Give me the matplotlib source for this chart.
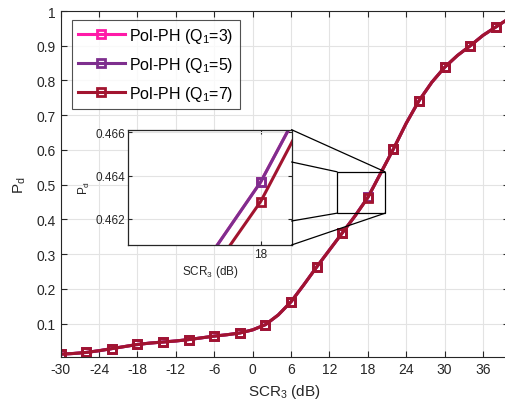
import matplotlib
matplotlib.use("Agg")
import matplotlib.pyplot as plt
from matplotlib.patches import Rectangle, ConnectionPatch

plt.rcParams['font.family'] = ['Liberation Sans', 'DejaVu Sans']
plt.rcParams['mathtext.fontset'] = 'custom'
plt.rcParams['mathtext.rm'] = 'Liberation Sans'
plt.rcParams['mathtext.it'] = 'Liberation Sans'

# ---- data ----
scr = [-30, -28, -26, -24, -22, -20, -18, -16, -14, -12, -10, -8, -6, -4, -2, 0,
       2, 4, 6, 8, 10, 12, 14, 16, 18, 20, 22, 24, 26, 28, 30, 32, 34, 36, 38, 40]
pd_q7 = [0.012, 0.014, 0.017, 0.022, 0.028, 0.034, 0.040, 0.044, 0.047, 0.050, 0.054, 0.059,
         0.064, 0.068, 0.073, 0.082, 0.097, 0.125, 0.163, 0.212, 0.263, 0.312, 0.361, 0.410,
         0.4628, 0.533, 0.603, 0.677, 0.742, 0.795, 0.838, 0.872, 0.900, 0.930, 0.954, 0.978]
pd_q5 = [0.012, 0.014, 0.017, 0.022, 0.028, 0.034, 0.040, 0.044, 0.047, 0.050, 0.054, 0.059,
         0.064, 0.068, 0.073, 0.082, 0.097, 0.125, 0.163, 0.212, 0.263, 0.312, 0.361, 0.410,
         0.4637, 0.533, 0.603, 0.677, 0.742, 0.795, 0.838, 0.872, 0.900, 0.930, 0.954, 0.978]
pd_q3 = list(pd_q5)

labels = ['Pol-PH (Q$_1$=3)', 'Pol-PH (Q$_1$=5)', 'Pol-PH (Q$_1$=7)']
colors = ['#FF1AA8', '#7E2F8E', '#A2142F']
series = [pd_q3, pd_q5, pd_q7]

xticks = [-30, -24, -18, -12, -6, 0, 6, 12, 18, 24, 30, 36]
yticks = [0.1, 0.2, 0.3, 0.4, 0.5, 0.6, 0.7, 0.8, 0.9, 1.0]
ins_yticks = [0.462, 0.464, 0.466]
ins_xticks = [18]

axcol = '#262626'
gridcol = '#E3E3E3'

fig = plt.figure(figsize=(5.05, 4.06), dpi=100)
ax = fig.add_axes([0.1202, 0.1175, 0.887, 0.8529])

for y, c, lab in zip(series, colors, labels):
    ax.plot(scr, y, '-', color=c, lw=2.2, marker='s', ms=5.5, mfc='none', mew=2.0,
            markevery=2, label=lab)

ax.set_xlim(-30, 40)
ax.set_ylim(0.003, 1)
ax.set_xticks(xticks)
ax.set_xticklabels([str(t) for t in xticks])
ax.set_yticks(yticks)
ax.set_yticklabels(['%g' % t for t in yticks])
ax.grid(True, color=gridcol, lw=0.8)
ax.set_axisbelow(True)
ax.tick_params(direction='in', top=True, right=True, labelsize=10, colors=axcol,
               length=4, width=0.8)
for s in ax.spines.values():
    s.set_color(axcol)
    s.set_linewidth(0.8)
ax.set_xlabel('SCR$_3$ (dB)', fontsize=11, color=axcol, labelpad=4)
ax.set_ylabel('P$_d$', fontsize=11, color=axcol, labelpad=6)

leg = ax.legend(loc='upper left', bbox_to_anchor=(0.025, 0.975), fontsize=11.5,
                frameon=True, fancybox=False, edgecolor=axcol, handlelength=2.9,
                borderpad=0.4, labelspacing=0.62, handletextpad=0.3, borderaxespad=0)
leg.get_frame().set_linewidth(0.8)

# zoom rectangle on main axes
rx0, rx1, ry0, ry1 = 13.2, 20.7, 0.418, 0.537
ax.add_patch(Rectangle((rx0, ry0), rx1 - rx0, ry1 - ry0, fill=False, ec='black', lw=0.9, zorder=5))

# inset axes
ins = fig.add_axes([0.2541, 0.3941, 0.3232, 0.284])
for y, c in zip(series, colors):
    ins.plot(scr, y, '-', color=c, lw=2.2, marker='s', ms=5.5, mfc='none', mew=2.0)
ins.set_xlim(17.67, 18.077)
ins.set_ylim(0.4608, 0.46611)
ins.set_xticks(ins_xticks)
ins.set_xticklabels([str(t) for t in ins_xticks])
ins.set_yticks(ins_yticks)
ins.set_yticklabels(['%.3f' % t for t in ins_yticks])
ins.grid(True, color=gridcol, lw=0.8)
ins.set_axisbelow(True)
ins.tick_params(direction='in', top=True, right=True, labelsize=8.5, colors=axcol,
                length=3, width=0.8, pad=2)
for s in ins.spines.values():
    s.set_color(axcol)
    s.set_linewidth(0.9)
ins.set_xlabel('SCR$_3$ (dB)', fontsize=8.5, color=axcol, labelpad=2)
ins.set_ylabel('P$_d$', fontsize=8.5, color=axcol, labelpad=3)

# connector lines
conns = [((1, 1.0), (rx1, ry1)), ((1, 0.72), (rx0, ry1)),
         ((1, 0.208), (rx0, ry0)), ((1, 0.0), (rx1, ry0))]
for pa, pb in conns:
    cp = ConnectionPatch(xyA=pa, coordsA=ins.transAxes, xyB=pb, coordsB=ax.transData,
                         color='black', lw=0.9)
    fig.add_artist(cp)

fig.savefig('out.png', dpi=100)
